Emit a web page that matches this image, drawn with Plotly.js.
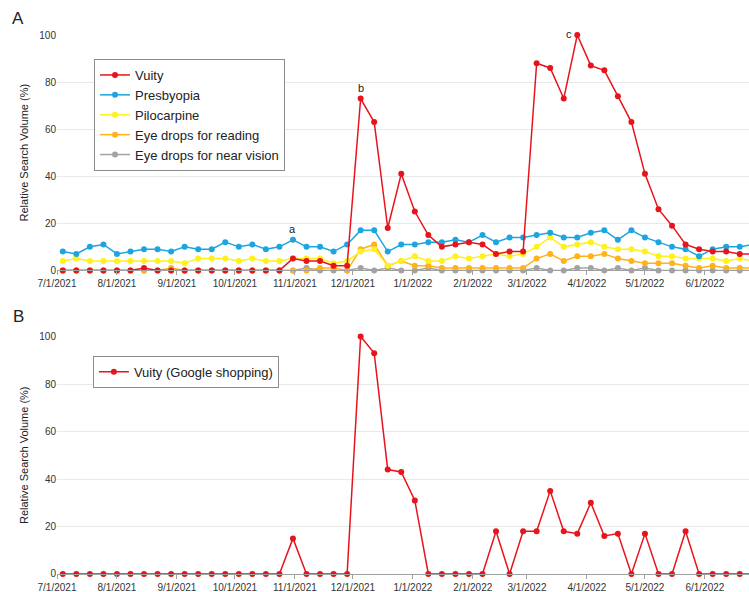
<!DOCTYPE html>
<html><head><meta charset="utf-8">
<script src="https://cdn.plot.ly/plotly-3.0.1.min.js"></script>
<style>html,body{margin:0;padding:0;overflow:hidden;background:#fff}#chart{width:761px;height:592px}</style>
</head><body><div id="chart"></div><script>
// Weekly dates (week starting)
const weeks = ["2021-07-04","2021-07-11","2021-07-18","2021-07-25","2021-08-01","2021-08-08","2021-08-15","2021-08-22","2021-08-29",
"2021-09-05","2021-09-12","2021-09-19","2021-09-26","2021-10-03","2021-10-10","2021-10-17","2021-10-24","2021-10-31",
"2021-11-07","2021-11-14","2021-11-21","2021-11-28","2021-12-05","2021-12-12","2021-12-19","2021-12-26",
"2022-01-02","2022-01-09","2022-01-16","2022-01-23","2022-01-30","2022-02-06","2022-02-13","2022-02-20","2022-02-27",
"2022-03-06","2022-03-13","2022-03-20","2022-03-27","2022-04-03","2022-04-10","2022-04-17","2022-04-24",
"2022-05-01","2022-05-08","2022-05-15","2022-05-22","2022-05-29","2022-06-05","2022-06-12","2022-06-19","2022-06-26"];

// Panel A series
const vuity = [0,0,0,0,0,0,1,0,0,0,0,0,0,0,0,0,0,5,4,4,2,2,73,63,18,41,25,15,10,11,12,11,7,8,8,88,86,73,100,87,85,74,63,41,26,19,11,9,8,8,7,7];
const presbyopia = [8,7,10,11,7,8,9,9,8,10,9,9,12,10,11,9,10,13,10,10,8,11,17,17,8,11,11,12,12,13,12,15,12,14,14,15,16,14,14,16,17,13,17,14,12,10,9,6,9,10,10,11];
const pilocarpine = [4,5,4,4,4,4,4,4,4,3,5,5,5,4,5,4,4,5,5,5,3,4,8,9,2,4,6,4,4,6,5,6,7,6,7,10,14,10,11,12,10,9,9,8,6,6,5,5,5,4,5,4];
const eyeDropsReading = [0,0,0,0,0,0,0,0,1,0,0,0,0,0,0,0,0,0,0,1,1,0,9,11,2,4,2,2,1,1,1,1,1,1,1,5,7,4,6,6,7,5,4,3,3,3,2,1,2,1,1,1];
const eyeDropsNearVision = [0,0,0,0,0,0,0,0,0,0,0,0,0,0,0,0,0,0,1,0,0,0,1,0,1,0,0,1,0,0,0,0,0,0,0,1,0,0,1,1,0,1,0,1,0,0,0,0,0,0,0,0];

// Panel B series
const vuityShopping = [0,0,0,0,0,0,0,0,0,0,0,0,0,0,0,0,0,15,0,0,0,0,100,93,44,43,31,0,0,0,0,0,18,0,18,18,35,18,17,30,16,17,0,17,0,0,18,0,0,0,0,0];

// Point labels (index into weeks, series)
const pointLabels = [
  {text:"a", idx:17, series:presbyopia, xshift:0, yshift:11},
  {text:"b", idx:22, series:vuity, xshift:0, yshift:11},
  {text:"c", idx:38, series:vuity, xshift:-8, yshift:1}
];

const names = ["Vuity","Presbyopia","Pilocarpine","Eye drops for reading","Eye drops for near vision"];
const colors = {red:"#e8141c", blue:"#1ea5e0", yellow:"#fff01e", orange:"#ffb21a", gray:"#a3a3a3"};

const FONT = "Arial, 'Liberation Sans', sans-serif";
const NARROW = "'Liberation Sans Narrow', 'Arial Narrow', Arial, 'Liberation Sans', sans-serif";

function tr(y, name, color, rank, xa, ya, leg){
  return {x:weeks, y:y, name:name, type:"scatter", mode:"lines+markers", cliponaxis:false,
    line:{color:color, width:1.5}, marker:{color:color, size:6},
    xaxis:xa, yaxis:ya, legend:leg, legendrank:rank, hoverinfo:"x+y"};
}

const data = [
  tr(eyeDropsNearVision, names[4], colors.gray, 5, "x", "y", "legend"),
  tr(eyeDropsReading, names[3], colors.orange, 4, "x", "y", "legend"),
  tr(pilocarpine, names[2], colors.yellow, 3, "x", "y", "legend"),
  tr(presbyopia, names[1], colors.blue, 2, "x", "y", "legend"),
  tr(vuity, names[0], colors.red, 1, "x", "y", "legend"),
  tr(vuityShopping, "Vuity (Google shopping)", colors.red, 1, "x2", "y2", "legend2")
];

const xCommon = {
  type:"date", range:["2021-07-01","2022-06-30"], tick0:"2021-07-01", dtick:"M1",
  tickformat:"%-m/%-d/%Y", showgrid:false, zeroline:false,
  showline:true, linecolor:"#a0a0a0", linewidth:1,
  ticks:"outside", ticklen:4, tickcolor:"#a0a0a0",
  tickfont:{family:NARROW, size:10, color:"#333"}, automargin:false
};
const yCommon = {
  range:[0,100], tickvals:[0,20,40,60,80,100], showgrid:true, gridcolor:"#e9e9e9", gridwidth:1,
  zeroline:false, showline:false, ticks:"", tickfont:{family:FONT, size:10, color:"#333"},
  title:{text:"Relative Search Volume (%)", font:{family:FONT, size:11, color:"#222"}, standoff:8},
  automargin:false
};

const annotations = pointLabels.map(p => ({
  text:p.text, x:weeks[p.idx], y:p.series[p.idx], xref:"x", yref:"y",
  showarrow:false, xshift:p.xshift, yshift:p.yshift, font:{family:FONT, size:11, color:"#222"}
}));
annotations.push({text:"A", xref:"paper", yref:"paper", x:-0.0554, y:1.0315, showarrow:false,
  xanchor:"center", yanchor:"middle", font:{family:FONT, size:17, color:"#222"}});
annotations.push({text:"B", xref:"paper", yref:"paper", x:-0.0540, y:0.477, showarrow:false,
  xanchor:"center", yanchor:"middle", font:{family:FONT, size:17, color:"#222"}});

const legendCommon = {xanchor:"left", yanchor:"top", bgcolor:"#fff", bordercolor:"#8c8c8c", borderwidth:1,
  font:{family:FONT, size:13, color:"#222"}, tracegroupgap:0};

const layout = {
  width:761, height:592,
  margin:{l:57, r:0, t:35, b:18},
  paper_bgcolor:"#fff", plot_bgcolor:"#fff",
  showlegend:true,
  xaxis:Object.assign({}, xCommon, {anchor:"y"}),
  yaxis:Object.assign({}, yCommon, {domain:[0.5633,1], anchor:"x"}),
  xaxis2:Object.assign({}, xCommon, {anchor:"y2"}),
  yaxis2:Object.assign({}, yCommon, {domain:[0,0.4406], anchor:"x2"}),
  legend:Object.assign({}, legendCommon, {x:0.0526, y:0.9555, traceorder:"normal"}),
  legend2:Object.assign({}, legendCommon, {x:0.051, y:0.4048}),
  annotations:annotations
};

Plotly.newPlot("chart", data, layout, {displayModeBar:false, staticPlot:true});
</script></body></html>
